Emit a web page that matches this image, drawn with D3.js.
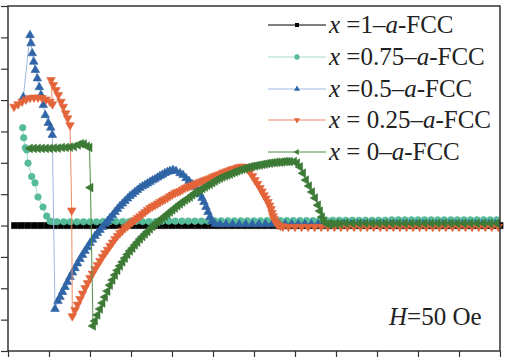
<!DOCTYPE html>
<html><head><meta charset="utf-8">
<script src="https://cdn.jsdelivr.net/npm/d3@7"></script>
<style>body{margin:0;background:#fff}svg{display:block}</style>
</head><body><svg id="c" width="508" height="358"></svg>
<script>
// ---- data (T in K, M in arb. units) ----
const xTicks = [0,25,50,75,100,125,150,175,200,225,250,275,300];
const yTicks = [-4,-3,-2,-1,0,1,2,3,4,5,6,7];
const annotationText = ["H", "=50 Oe"];

const legendLabels = [
  ["x", " =1\u2013", "a", "-FCC"],
  ["x", " =0.75\u2013", "a", "-FCC"],
  ["x", " =0.5\u2013", "a", "-FCC"],
  ["x", " = 0.25\u2013", "a", "-FCC"],
  ["x", " = 0\u2013", "a", "-FCC"]
];

const dataX100 = [[4,0.0],[8,0.0],[12,0.0],[16,0.0],[20,0.0],[24,0.0],[28,0.0],[32,0.0],[36,0.0],[40,0.0],[44,0.0],[48,0.0],[52,0.0],[56,0.0],[60,0.0],[64,0.0],[68,0.0],[72,0.0],[76,0.0],[80,0.0],[84,0.0],[88,0.0],[92,0.0],[96,0.0],[100,0.0],[104,0.0],[108,0.0],[112,0.0],[116,0.0],[120,0.0],[124,0.0],[128,0.0],[132,0.0],[136,0.0],[140,0.0],[144,0.0],[148,0.0],[152,0.0],[156,0.0],[160,0.0],[164,0.0],[168,0.0],[172,0.0],[176,0.0],[180,0.0],[184,0.0],[188,0.0],[192,0.0],[196,0.0],[200,0.0],[204,0.0],[208,0.0],[212,0.0],[216,0.0],[220,0.0],[224,0.0],[228,0.0],[232,0.0],[236,0.0],[240,0.0],[244,0.0],[248,0.0],[252,0.0],[256,0.0],[260,0.0],[264,0.0],[268,0.0],[272,0.0],[276,0.0],[280,0.0],[284,0.0],[288,0.0],[292,0.0],[296,0.0],[300,0.0]];

const dataX075 = [[8.96,3.12],[9.57,2.80],[10.55,2.48],[11.40,2.41],[12.20,1.99],[14.45,1.56],[16.46,1.36],[18.29,0.91],[21.34,0.59],[23.60,0.30],[25.61,0.14],[27.44,0.12],[30,0.12],[34,0.12],[38,0.12],[42,0.12],[46,0.12],[50,0.12],[54,0.12],[58,0.13],[62,0.13],[66,0.13],[70,0.13],[74,0.13],[78,0.13],[82,0.13],[86,0.13],[90,0.13],[94,0.14],[98,0.14],[102,0.14],[106,0.14],[110,0.14],[114,0.14],[118,0.14],[122,0.14],[126,0.15],[130,0.15],[134,0.15],[138,0.15],[142,0.15],[146,0.15],[150,0.15],[154,0.15],[158,0.16],[162,0.16],[166,0.16],[170,0.16],[174,0.16],[178,0.16],[182,0.16],[186,0.16],[190,0.17],[194,0.17],[198,0.17],[202,0.17],[206,0.17],[210,0.17],[214,0.17],[218,0.17],[222,0.17],[226,0.17],[230,0.17],[234,0.18],[238,0.18],[242,0.18],[246,0.18],[250,0.18],[254,0.18],[258,0.18],[262,0.18],[266,0.18],[270,0.18],[274,0.18],[278,0.18],[282,0.18],[286,0.18],[290,0.18],[294,0.18],[298,0.18]];

const dataX050 = [[9.33,4.09],[13.41,6.07],[14.02,5.81],[14.82,5.49],[15.67,5.22],[16.65,4.96],[17.87,4.69],[19.09,4.41],[20.12,4.16],[21.52,3.84],[22.74,3.52],[24.57,3.27],[26.04,3.12],[27.01,2.89],
 [28.66,-2.66],[30.49,-2.41],[31.71,-2.28],[33.23,-2.12],[34.76,-1.96],[36.28,-1.80],[37.80,-1.64],[39.33,-1.50],[40.85,-1.36],[42.38,-1.21],[43.90,-1.07],[45.43,-0.94],[46.95,-0.81],[48.48,-0.69],[50.00,-0.56],[51.52,-0.45],[53.05,-0.33],[54.57,-0.24],[56.10,-0.14],[57.62,-0.05],[59.15,0.05],[60.67,0.14],[62.20,0.24],[63.72,0.33],[65.24,0.43],[66.77,0.53],[68.29,0.62],[69.82,0.70],[71.34,0.78],[72.87,0.86],[74.39,0.94],[75.91,1.00],[77.44,1.07],[78.96,1.13],[80.49,1.20],[82.0,1.25],[83.54,1.29],[85.0,1.34],[86.59,1.39],[88.1,1.44],[89.63,1.48],[91.2,1.53],[92.68,1.58],[94.2,1.62],[95.73,1.67],[97.3,1.71],[98.78,1.74],[100.61,1.77],[102.44,1.74],[104.88,1.67],[106.71,1.61],[108.54,1.51],[110.37,1.42],[112.20,1.32],[114.02,1.23],[115.85,1.12],[117.07,1.00],[118.29,0.88],[119.51,0.75],[120.73,0.59],[121.95,0.43],[123.17,0.27],[124.39,0.14],[126.22,0.05],[129.27,0.04],
 [133,0.04],[137,0.04],[141,0.04],[145,0.04],[149,0.04],[153,0.04],[157,0.04],[161,0.04],[165,0.04],[169,0.04],[173,0.04],[177,0.04],[181,0.04],[185,0.04],[189,0.04],[193,0.04],[197,0.04],[201,0.04],[205,0.04],[209,0.04],[213,0.04],[217,0.04],[221,0.04],[225,0.04],[229,0.04],[233,0.04],[237,0.04],[241,0.04],[245,0.04],[249,0.04],[253,0.04],[257,0.04],[261,0.04],[265,0.04],[269,0.04],[273,0.04],[277,0.04],[281,0.04],[285,0.04],[289,0.04],[293,0.04],[297,0.04]];

const dataX025 = [[3.66,3.79],[6.10,3.87],[8.54,3.95],[10.98,4.02],[13.41,4.07],[15.85,4.08],[18.29,4.08],[20.73,4.07],[23.17,4.02],[25.61,3.95],[27.13,3.87],
 [26.22,4.64],[27.62,4.48],[29.27,4.32],[30.67,4.16],[32.32,3.95],[33.72,3.79],[35.18,3.58],[36.40,3.42],[37.80,3.20],
 [38.84,0.48],[39.21,-2.89],
 [40.85,-2.69],[42.38,-2.52],[43.90,-2.34],[45.43,-2.17],[46.95,-1.99],[48.48,-1.83],[50.00,-1.67],[51.52,-1.53],[53.05,-1.39],[54.57,-1.26],[56.10,-1.13],[57.62,-1.00],[59.15,-0.88],[60.67,-0.77],[62.20,-0.65],[63.72,-0.54],[65.24,-0.43],[66.77,-0.33],[68.29,-0.24],[69.82,-0.16],[71.34,-0.08],[72.87,-0.02],[74.39,0.05],[75.9,0.11],[77.44,0.18],[79.0,0.24],[80.49,0.30],[82.0,0.37],[83.54,0.43],[85.1,0.50],[86.59,0.56],[88.1,0.61],[89.63,0.65],[91.2,0.70],[92.68,0.75],[94.2,0.80],[95.73,0.84],[97.3,0.89],[98.78,0.94],[100.3,0.99],[101.83,1.04],[103.4,1.07],[104.88,1.10],[106.4,1.15],[107.93,1.20],[109.5,1.23],[110.98,1.26],[112.5,1.29],[114.02,1.32],[115.5,1.36],[117.07,1.39],[118.6,1.42],[120.12,1.45],[121.6,1.48],[123.17,1.51],[124.7,1.55],[126.22,1.58],[127.7,1.61],[129.27,1.64],[130.8,1.68],[132.32,1.71],[133.8,1.74],[135.37,1.77],[136.9,1.80],[138.41,1.82],[139.9,1.85],[141.46,1.87],[143.0,1.88],[144.51,1.87],[146.0,1.80],[147.56,1.71],[149.1,1.58],[150.61,1.45],[152.1,1.33],[153.66,1.20],[154.9,1.09],[156.10,0.97],[157.3,0.86],[158.54,0.75],[159.5,0.64],[160.37,0.53],[161.0,0.41],[161.59,0.30],[162.2,0.22],[162.80,0.14],[163.7,0.07],[164.63,0.02],[166.2,-0.01],[167.68,-0.03],
 [171,-0.04],[175,-0.04],[179,-0.04],[183,-0.04],[187,-0.04],[191,-0.04],[195,-0.04],[199,-0.04],[203,-0.04],[207,-0.04],[211,-0.04],[215,-0.04],[219,-0.04],[223,-0.04],[227,-0.04],[231,-0.04],[235,-0.04],[239,-0.04],[243,-0.04],[247,-0.04],[251,-0.04],[255,-0.04],[259,-0.04],[263,-0.04],[267,-0.04],[271,-0.04],[275,-0.04],[279,-0.04],[283,-0.04],[287,-0.04],[291,-0.04],[295,-0.04],[299,-0.04]];

const dataX000 = [[13.41,2.46],[15.85,2.46],[18.29,2.46],[20.73,2.46],[23.17,2.46],[25.61,2.46],[28.05,2.47],[30.49,2.47],[32.93,2.49],[35.37,2.49],[37.80,2.50],[40.24,2.52],[42.68,2.57],[44.51,2.61],[46.34,2.60],[48.17,2.53],[49.70,2.49],
 [50.30,1.21],[51.83,-3.20],
 [53.05,-3.04],[54.57,-2.85],[56.10,-2.66],[57.62,-2.47],[59.15,-2.28],[60.67,-2.09],[62.20,-1.90],[63.72,-1.74],[65.24,-1.58],[66.77,-1.43],[68.29,-1.29],[69.82,-1.16],[71.34,-1.04],[72.87,-0.92],[74.39,-0.81],[75.91,-0.72],[77.44,-0.62],[78.96,-0.53],[80.49,-0.43],[82.01,-0.35],[83.54,-0.27],[85.06,-0.19],[86.59,-0.11],[88.11,-0.03],[89.63,0.05],[91.2,0.11],[92.68,0.18],[94.2,0.24],[95.73,0.30],[97.3,0.37],[98.78,0.43],[100.3,0.50],[101.83,0.56],[103.4,0.63],[104.88,0.69],[106.4,0.75],[107.93,0.81],[109.5,0.86],[110.98,0.91],[112.5,0.98],[114.02,1.04],[115.5,1.09],[117.07,1.13],[118.6,1.18],[120.12,1.23],[121.6,1.28],[123.17,1.32],[124.7,1.37],[126.22,1.42],[127.7,1.47],[129.27,1.51],[130.8,1.55],[132.32,1.58],[133.8,1.61],[135.37,1.64],[136.9,1.68],[138.41,1.71],[139.9,1.74],[141.46,1.77],[143.0,1.80],[144.51,1.82],[146.0,1.85],[147.56,1.87],[149.1,1.89],[150.61,1.90],[152.1,1.92],[153.66,1.93],[155.2,1.95],[156.71,1.96],[158.2,1.98],[159.76,1.99],[161.3,2.00],[162.80,2.01],[164.3,2.02],[165.85,2.02],[167.4,2.03],[168.90,2.04],[170.4,2.04],[171.95,2.04],[174.39,2.04],[176.22,1.99],[178.05,1.87],[179.88,1.67],[181.71,1.45],[183.54,1.26],[185.37,1.07],[187.20,0.88],[189.02,0.65],[190.24,0.46],[191.46,0.27],[192.68,0.14],[194.51,0.05],[196.0,0.05],[197.56,0.05],[200.0,0.06],[202.44,0.06],
 [206,0.07],[210,0.07],[214,0.07],[218,0.07],[222,0.07],[226,0.07],[230,0.07],[234,0.07],[238,0.07],[242,0.07],[246,0.07],[250,0.07],[254,0.07],[258,0.07],[262,0.07],[266,0.07],[270,0.07],[274,0.07],[278,0.07],[282,0.07],[286,0.07],[290,0.07],[294,0.07],[298,0.07]];

const seriesData = [dataX100, dataX075, dataX050, dataX025, dataX000];

// ---- styles ----
const styles = [
  {marker:"#000000", line:"#000000", sym:d3.symbolSquare,   size:38, rot:0,   lsize:16},
  {marker:"#55bb99", line:"#a9ddca", sym:d3.symbolCircle,   size:34, rot:0,   lsize:22},
  {marker:"#2f64a6", line:"#9fb8e0", sym:d3.symbolTriangle, size:32, rot:0,   lsize:16},
  {marker:"#e4643a", line:"#ee8a62", sym:d3.symbolTriangle, size:32, rot:180, lsize:16},
  {marker:"#3d7a36", line:"#4f8c45", sym:d3.symbolTriangle, size:32, rot:-90, lsize:16}
];

const svg = d3.select("#c");
const x = d3.scaleLinear().domain([0,300]).range([8,500]);
const y = d3.scaleLinear().domain([-4,7]).range([351,6]);

// axes (ticks only)
const gy = svg.append("g").attr("transform","translate(8,0)")
  .call(d3.axisLeft(y).tickValues(yTicks).tickSize(7).tickFormat(""));
const gx = svg.append("g").attr("transform","translate(0,351)")
  .call(d3.axisBottom(x).tickValues(xTicks).tickSize(6).tickFormat(""));
[gx,gy].forEach(g=>{g.select(".domain").remove(); g.selectAll("line").attr("stroke","#333").attr("stroke-width",1.2);});

const line = d3.line().x(d=>x(d[0])).y(d=>y(d[1]));

seriesData.forEach((data,i)=>{
  const st = styles[i];
  const g = svg.append("g");
  g.append("path").attr("d", line(data)).attr("fill","none")
    .attr("stroke", st.line).attr("stroke-width", 1);
  const sym = d3.symbol().type(st.sym).size(st.size);
  g.selectAll("path.m").data(data).join("path").attr("class","m")
    .attr("d", sym)
    .attr("transform", d=>`translate(${x(d[0])},${y(d[1])}) rotate(${st.rot})`)
    .attr("fill", st.marker).attr("stroke", st.marker).attr("stroke-width", 0.6);
});

// frame
svg.append("rect").attr("x",8).attr("y",6).attr("width",492).attr("height",345)
  .attr("fill","none").attr("stroke","#333").attr("stroke-width",1.5);

// legend
const legendY = [25,57,89,120,152];
legendLabels.forEach((lab,i)=>{
  const st = styles[i];
  const ly = legendY[i];
  svg.append("line").attr("x1",268).attr("x2",326).attr("y1",ly).attr("y2",ly)
    .attr("stroke", st.line).attr("stroke-width",1);
  svg.append("path").attr("d", d3.symbol().type(st.sym).size(st.lsize))
    .attr("transform",`translate(297,${ly}) rotate(${st.rot})`).attr("fill", st.marker);
  const t = svg.append("text").attr("x",329).attr("y",ly+8)
    .attr("font-family","'Liberation Serif','Times New Roman',serif").attr("font-size",25).attr("fill","#222");
  lab.forEach((s,k)=>{
    t.append("tspan").text(s).attr("font-style", (k===0||k===2)?"italic":"normal");
  });
});

// annotation
const at = svg.append("text").attr("x",389).attr("y",325)
  .attr("font-family","'Liberation Serif','Times New Roman',serif").attr("font-size",25).attr("fill","#222");
at.append("tspan").text(annotationText[0]).attr("font-style","italic");
at.append("tspan").text(annotationText[1]);
</script></body></html>
